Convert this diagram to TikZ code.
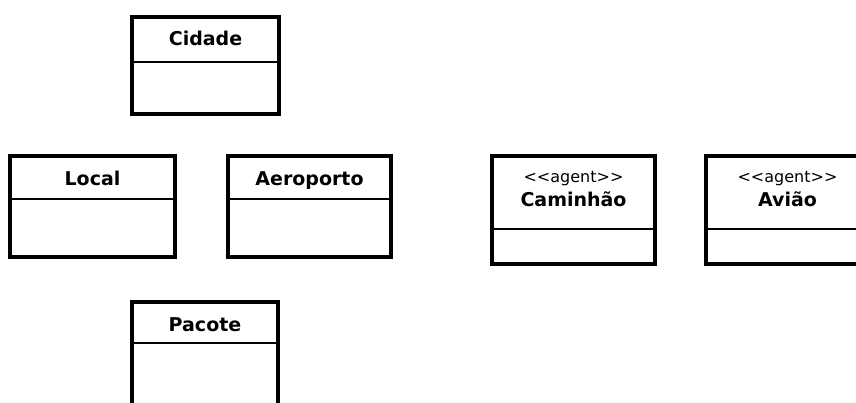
\documentclass[tikz,border=0pt]{standalone}
\usepackage{fontspec}
\setmainfont{DejaVu Sans}
\begin{document}
\begin{tikzpicture}[x=1pt,y=-1pt,
  classbox/.style={draw=black, line width=4pt, fill=white, inner sep=0pt, outer sep=0pt},
  classname/.style={font=\fontsize{19}{21}\selectfont\bfseries, inner sep=0pt, anchor=base},
  stereotype/.style={font=\fontsize{16}{18}\selectfont, inner sep=0pt, anchor=base},
  divider/.style={line width=1.4pt}]
\clip (0,0) rectangle (856,403);
\fill[white] (0,0) rectangle (856,403);

% class boxes
\node[classbox, minimum width=147pt, minimum height=97pt]  (cidade)    at (205.5,65.5) {};
\node[classbox, minimum width=165pt, minimum height=101pt] (local)     at (92.5,206.5) {};
\node[classbox, minimum width=163pt, minimum height=101pt] (aeroporto) at (309.5,206.5) {};
\node[classbox, minimum width=163pt, minimum height=108pt] (caminhao)  at (573.5,210) {};
\node[classbox, minimum width=163pt, minimum height=108pt] (aviao)     at (787.5,210) {};
\node[classbox, minimum width=146pt, minimum height=140pt] (pacote)    at (205,372) {};

% compartment dividers
\draw[divider] ([yshift=-45pt]cidade.north west)    -- ([yshift=-45pt]cidade.north east);
\draw[divider] ([yshift=-43pt]local.north west)     -- ([yshift=-43pt]local.north east);
\draw[divider] ([yshift=-43pt]aeroporto.north west) -- ([yshift=-43pt]aeroporto.north east);
\draw[divider] ([yshift=-73pt]caminhao.north west)  -- ([yshift=-73pt]caminhao.north east);
\draw[divider] ([yshift=-73pt]aviao.north west)     -- ([yshift=-73pt]aviao.north east);
\draw[divider] ([yshift=-41pt]pacote.north west)    -- ([yshift=-41pt]pacote.north east);

% names (placed on their baselines)
\node[classname] (tcidade)    at (205.5,46)  {Cidade};
\node[classname] (tlocal)     at (92.5,185.5)  {Local};
\node[classname] (taeroporto) at (309.5,185.5) {Aeroporto};
\node[stereotype] (scaminhao) at (573.5,182.5) {<\kern0pt<agent>\kern0pt>};
\node[classname] (tcaminhao)  at (573.5,206.5) {Caminhão};
\node[stereotype] (saviao)    at (787.5,182.5) {<\kern0pt<agent>\kern0pt>};
\node[classname] (taviao)     at (787.5,206.5) {Avião};
\node[classname] (tpacote)    at (205,331.5)   {Pacote};
\end{tikzpicture}
\end{document}
